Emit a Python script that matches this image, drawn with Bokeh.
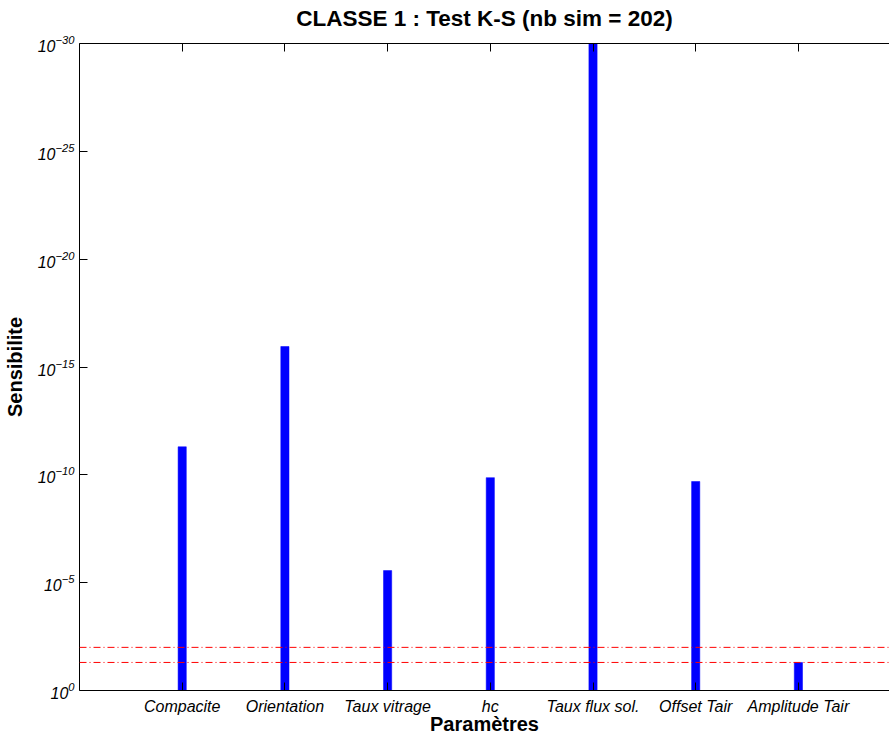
from bokeh.plotting import figure
from bokeh.models import (Range1d, FixedTicker, LinearAxis, Span, LogTickFormatter,
                          ColumnDataSource, CustomLabelingPolicy)
from bokeh.embed import file_html
from bokeh.resources import INLINE

# ---- data ----
categories = ["Compacite", "Orientation", "Taux vitrage", "hc",
              "Taux flux sol.", "Offset Tair", "Amplitude Tair"]
sensibilite = [10**-11.3, 10**-15.95, 10**-5.56, 10**-9.87,
               1e-34, 10**-9.69, 10**-1.3]
seuils = [0.05, 0.01]
y_ticks = [1e0, 1e-5, 1e-10, 1e-15, 1e-20, 1e-25, 1e-30]

positions = list(range(1, len(categories) + 1))
src = ColumnDataSource(dict(x=positions, top=sensibilite,
                            bottom=[1.0] * len(positions)))

FONT = "Liberation Sans"

p = figure(width=889, height=738, output_backend="svg", toolbar_location=None,
           y_axis_type="log",
           x_range=Range1d(0, 7.887), y_range=Range1d(1, 1e-30),
           min_border_left=78, min_border_right=0, min_border_top=43,
           min_border_bottom=48)
p.outline_line_color = None
p.grid.visible = False
p.background_fill_color = "white"
p.border_fill_color = "white"

p.title.text = "CLASSE 1 : Test K-S (nb sim = 202)"
p.title.align = "center"
p.title.offset = 9
p.title.text_font = FONT
p.title.text_font_size = "22.5px"
p.title.text_font_style = "bold"
p.title.text_color = "black"
p.title.standoff = 4

p.vbar(x="x", top="top", bottom="bottom", width=0.08, source=src,
       fill_color="#0000ff", line_color="#0000ff", line_width=0.5)

for s in seuils:
    p.add_layout(Span(location=s, dimension="width", line_color="#ff0000",
                      line_width=1, line_dash="7 3 1 3"))

# y axis
ya = p.yaxis[0]
ya.ticker = FixedTicker(ticks=y_ticks, minor_ticks=[])
ya.formatter = LogTickFormatter()
ya.axis_label = "Sensibilite"
ya.axis_label_text_font = FONT
ya.axis_label_text_font_size = "20px"
ya.axis_label_text_font_style = "bold"
ya.axis_label_text_color = "black"
ya.axis_label_standoff = 9
ya.major_label_text_font = FONT
ya.major_label_text_font_size = "16px"
ya.major_label_text_font_style = "italic"
ya.major_label_text_color = "black"
ya.major_label_standoff = 5
ya.major_tick_in = 8
ya.major_tick_out = 0
ya.minor_tick_in = 0
ya.minor_tick_out = 0
ya.axis_line_color = "black"
ya.major_tick_line_color = "black"

# x axis
xa = p.xaxis[0]
xa.ticker = FixedTicker(ticks=positions, minor_ticks=[])
xa.major_label_overrides = {pos: c for pos, c in zip(positions, categories)}
xa.axis_label = "Paramètres"
xa.axis_label_text_font = FONT
xa.axis_label_text_font_size = "20px"
xa.axis_label_text_font_style = "bold"
xa.axis_label_text_color = "black"
xa.axis_label_standoff = -5
xa.major_label_text_font = FONT
xa.major_label_text_font_size = "16px"
xa.major_label_text_font_style = "italic"
xa.major_label_text_color = "black"
xa.major_label_standoff = 7
xa.major_tick_in = 8
xa.major_tick_out = 0
xa.minor_tick_in = 0
xa.minor_tick_out = 0
xa.axis_line_color = "black"

# top axis (box edge with ticks, no labels)
top = LinearAxis(ticker=FixedTicker(ticks=positions, minor_ticks=[]),
                 major_label_policy=CustomLabelingPolicy(
                     code="return new indices.constructor(indices.size, 0)"),
                 major_label_standoff=0,
                 major_tick_in=8, major_tick_out=0, minor_tick_in=0, minor_tick_out=0,
                 axis_line_color="black", major_tick_line_color="black")
p.add_layout(top, "above")

open("out.html", "w").write(file_html(p, INLINE))
